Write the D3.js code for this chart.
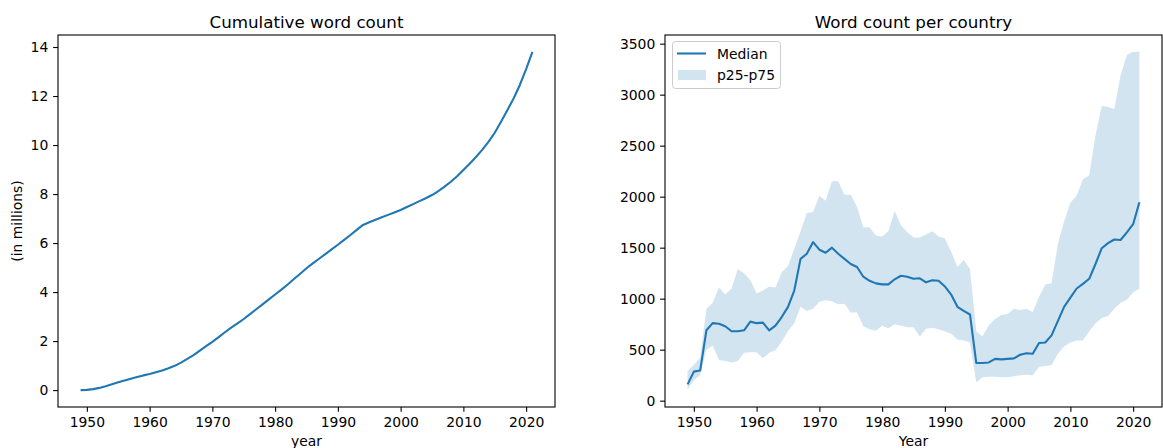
<!DOCTYPE html>
<html>
<head>
<meta charset="utf-8">
<script src="https://cdn.jsdelivr.net/npm/d3@7"></script>
<style>
  body { margin: 0; background: #fff; }
  svg { display: block; font-family: "DejaVu Sans", sans-serif; }
  .tick text { font-family: "DejaVu Sans", sans-serif; font-size: 13.9px; fill: #000; }
  .tick line { stroke: #000; stroke-width: 1.1; }
</style>
</head>
<body>
<svg width="1163" height="448"></svg>
<script>
const WIDTH = 1163;
const HEIGHT = 448;
const TOP = 35;
const BOTTOM = 407;
const TICK = 4.86;
const BLUE = "#1f77b4";

// years 1949..2021
const years = d3.range(1949, 2022);

// cumulative word count, in millions
const cumulative = [
  0.00, 0.01, 0.04, 0.09, 0.16, 0.24, 0.32, 0.39, 0.46, 0.53,
  0.60, 0.66, 0.73, 0.80, 0.89, 0.99, 1.12, 1.27, 1.43, 1.61,
  1.79, 1.97, 2.16, 2.36, 2.55, 2.72, 2.90, 3.10, 3.30, 3.50,
  3.70, 3.90, 4.10, 4.31, 4.53, 4.75, 4.97, 5.17, 5.36, 5.55,
  5.74, 5.93, 6.13, 6.33, 6.54, 6.74, 6.85, 6.95, 7.05, 7.15,
  7.25, 7.35, 7.47, 7.59, 7.71, 7.83, 7.96, 8.12, 8.30, 8.50,
  8.73, 8.98, 9.24, 9.51, 9.80, 10.13, 10.50, 10.95, 11.42, 11.90,
  12.45, 13.10, 13.80
];

// word count per country
const median = [
  160, 285, 295, 690, 760, 755, 730, 680, 680, 690,
  775, 760, 765, 690, 735, 820, 920, 1080, 1390, 1440,
  1555, 1480, 1450, 1500, 1440, 1390, 1340, 1310, 1215, 1175,
  1150, 1140, 1140, 1190, 1225, 1215, 1195, 1200, 1160, 1180,
  1175, 1120, 1040, 920, 880, 845, 370, 370, 375, 410,
  405, 410, 415, 450, 465, 460, 565, 570, 640, 780,
  920, 1010, 1100, 1145, 1195, 1340, 1495, 1545, 1580, 1575,
  1650, 1730, 1945
];
const p75 = [
  290, 350, 420, 900, 960, 1110, 1040, 1100, 1290, 1250,
  1180, 1050, 1080, 1120, 1110, 1260, 1320, 1490, 1660, 1840,
  1850, 2010, 1960, 2150, 2150, 2020, 2020, 1900, 1700, 1700,
  1620, 1610, 1660, 1860, 1720, 1650, 1600, 1600, 1630, 1660,
  1610, 1590, 1460, 1310, 1380, 1290, 680, 630, 740, 800,
  840, 850, 900, 890, 900, 870, 1020, 1140, 1150, 1530,
  1760, 1940, 2010, 2170, 2210, 2600, 2890, 2880, 2860, 3190,
  3390, 3420, 3420
];
const p25 = [
  110, 200, 250, 500, 540, 400, 390, 375, 390, 470,
  475, 475, 415, 470, 495, 580, 680, 760, 920, 880,
  900, 970, 985, 975, 945, 950, 865, 865, 730, 700,
  685, 735, 710, 750, 735, 720, 720, 630, 705, 715,
  700, 680, 655, 600, 590, 570, 180, 230, 235, 235,
  230, 230, 240, 250, 255, 250, 330, 340, 350, 460,
  530, 570, 590, 590, 680, 760, 810, 830, 900, 960,
  990, 1060, 1100
];

const xTicks = [1950, 1960, 1970, 1980, 1990, 2000, 2010, 2020];
const leftYTicks = [0, 2, 4, 6, 8, 10, 12, 14];
const rightYTicks = [0, 500, 1000, 1500, 2000, 2500, 3000, 3500];

const svg = d3.select("svg");

function drawPanel(left, right, yDomain, yTicks, title, xLabel) {
  const x = d3.scaleLinear().domain([1945.4, 2024.6]).range([left, right]);
  const y = d3.scaleLinear().domain(yDomain).range([BOTTOM, TOP]);
  const g = svg.append("g");

  g.append("g")
    .attr("transform", `translate(0,${BOTTOM})`)
    .call(d3.axisBottom(x).tickValues(xTicks).tickFormat(d3.format("d"))
      .tickSize(TICK).tickPadding(5.5))
    .call(a => a.select(".domain").remove());

  g.append("g")
    .attr("transform", `translate(${left},0)`)
    .call(d3.axisLeft(y).tickValues(yTicks).tickFormat(d3.format("d"))
      .tickSize(TICK).tickPadding(4.86))
    .call(a => a.select(".domain").remove());

  g.append("text")
    .attr("x", (left + right) / 2)
    .attr("y", 28)
    .attr("text-anchor", "middle")
    .attr("font-size", "16.7px")
    .text(title);

  g.append("text")
    .attr("x", (left + right) / 2)
    .attr("y", 446)
    .attr("text-anchor", "middle")
    .attr("font-size", "13.9px")
    .text(xLabel);

  return { g, x, y };
}

// left panel
const L = drawPanel(58, 555, [-0.69, 14.49], leftYTicks, "Cumulative word count", "year");

L.g.append("path")
  .datum(years)
  .attr("fill", "none")
  .attr("stroke", BLUE)
  .attr("stroke-width", 2.08)
  .attr("stroke-linejoin", "round")
  .attr("d", d3.line().x(d => L.x(d)).y((d, i) => L.y(cumulative[i])));

L.g.append("text")
  .attr("transform", `translate(22,${(TOP + BOTTOM) / 2}) rotate(-90)`)
  .attr("text-anchor", "middle")
  .attr("font-size", "13.9px")
  .text("(in millions)");

L.g.append("rect")
  .attr("x", 58).attr("y", TOP).attr("width", 555 - 58).attr("height", BOTTOM - TOP)
  .attr("fill", "none").attr("stroke", "#000").attr("stroke-width", 1.1);

// right panel
const R = drawPanel(665, 1162, [-62, 3585], rightYTicks, "Word count per country", "Year");

R.g.append("path")
  .datum(years)
  .attr("fill", BLUE)
  .attr("fill-opacity", 0.2)
  .attr("d", d3.area().x(d => R.x(d)).y0((d, i) => R.y(p25[i])).y1((d, i) => R.y(p75[i])));

R.g.append("path")
  .datum(years)
  .attr("fill", "none")
  .attr("stroke", BLUE)
  .attr("stroke-width", 2.08)
  .attr("stroke-linejoin", "round")
  .attr("d", d3.line().x(d => R.x(d)).y((d, i) => R.y(median[i])));

R.g.append("rect")
  .attr("x", 665).attr("y", TOP).attr("width", 1162 - 665).attr("height", BOTTOM - TOP)
  .attr("fill", "none").attr("stroke", "#000").attr("stroke-width", 1.1);

// legend
const lg = R.g.append("g");
lg.append("rect")
  .attr("x", 672.5).attr("y", 41.5).attr("width", 108).attr("height", 47)
  .attr("rx", 3)
  .attr("fill", "#fff").attr("fill-opacity", 0.8)
  .attr("stroke", "#cccccc").attr("stroke-width", 1);
lg.append("line")
  .attr("x1", 677).attr("x2", 706).attr("y1", 53.5).attr("y2", 53.5)
  .attr("stroke", BLUE).attr("stroke-width", 2.08);
lg.append("text").attr("x", 717).attr("y", 59).attr("font-size", "13.9px").text("Median");
lg.append("rect")
  .attr("x", 678).attr("y", 70).attr("width", 28).attr("height", 10)
  .attr("fill", BLUE).attr("fill-opacity", 0.2);
lg.append("text").attr("x", 717).attr("y", 79.5).attr("font-size", "13.9px").text("p25-p75");
</script>
</body>
</html>
